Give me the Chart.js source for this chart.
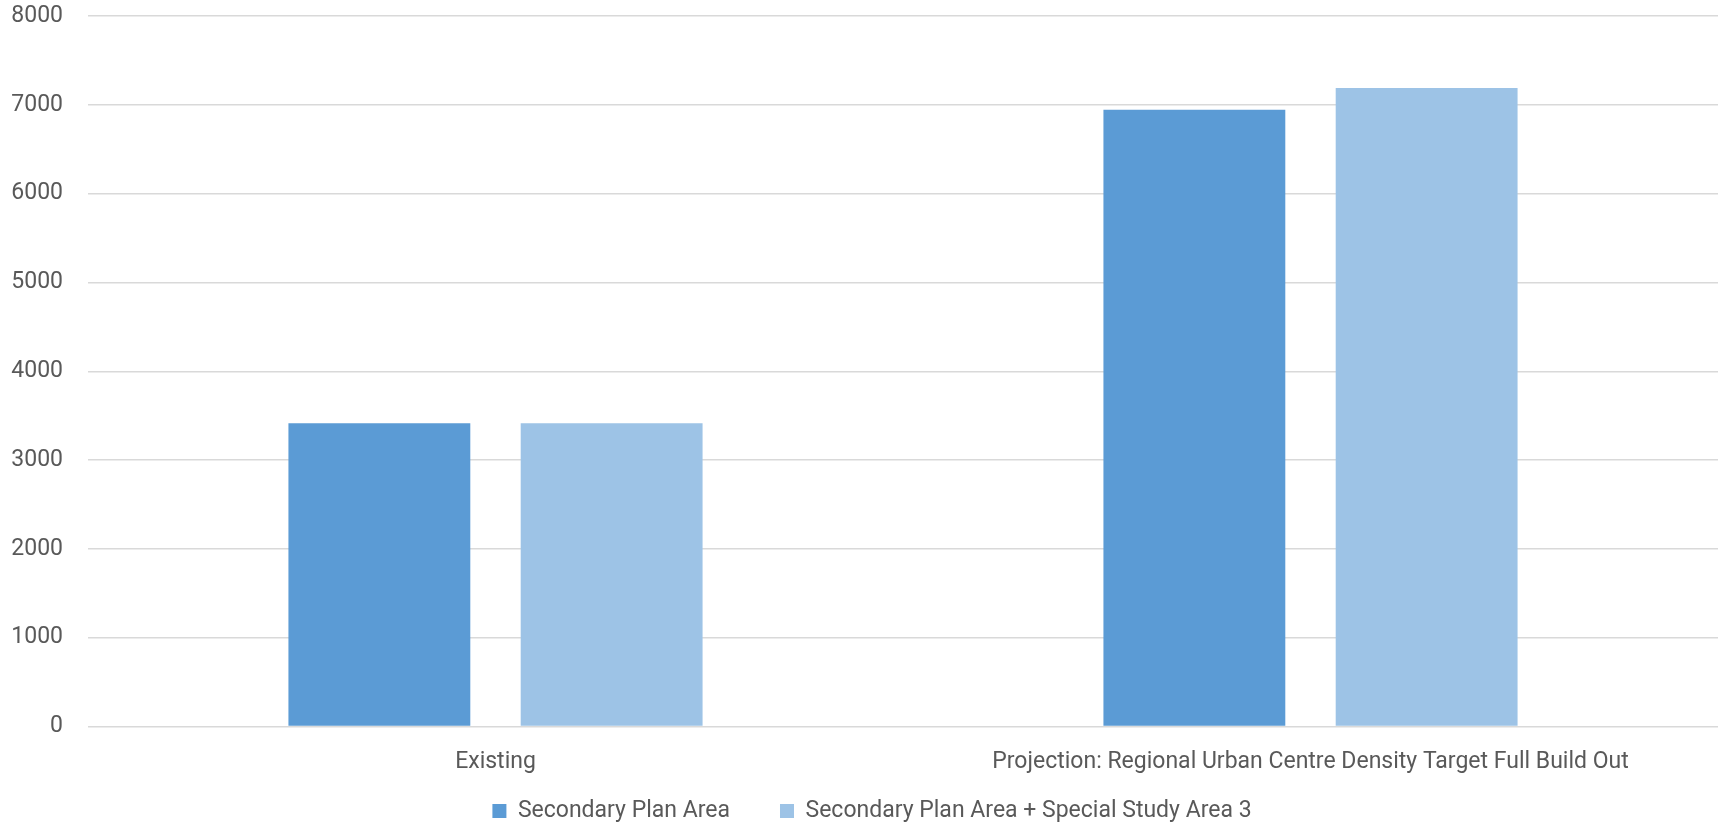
<!DOCTYPE html>
<html>
<head>
<meta charset="utf-8">
<script src="https://cdn.jsdelivr.net/npm/chart.js@4"></script>
<style>
  html, body { margin: 0; padding: 0; background: #fff; }
  #wrap { width: 1721px; height: 823px; }
</style>
</head>
<body>
<div id="wrap"><canvas id="densityChart"></canvas></div>
<script>
// chart data
const categories = ['Existing', 'Projection: Regional Urban Centre Density Target Full Build Out'];
const seriesNames = ['Secondary Plan Area', 'Secondary Plan Area + Special Study Area 3'];
const secondaryPlan = [3415, 6945];
const withStudyArea = [3415, 7190];
const yTicks = [0, 1000, 2000, 3000, 4000, 5000, 6000, 7000, 8000];

const textColor = '#595959';
const gridColor = '#D9D9D9';
const fontFamily = 'Roboto, "Liberation Sans", sans-serif';

const ctx = document.getElementById('densityChart').getContext('2d');
new Chart(ctx, {
	type: 'bar',
	data: {
		labels: categories,
		datasets: [{
			label: seriesNames[0],
			data: secondaryPlan,
			backgroundColor: '#5B9BD5',
			borderWidth: 0
		}, {
			label: seriesNames[1],
			data: withStudyArea,
			backgroundColor: '#9DC3E6',
			borderWidth: 0
		}]
	},
	options: {
		responsive: true,
		maintainAspectRatio: false,
		animation: false,
		datasets: {
			bar: {
				categoryPercentage: 0.57,
				barPercentage: 0.783
			}
		},
		layout: {
			// left padding only nudges the centred legend to the right
			padding: { top: 16, right: 3, bottom: -9.5, left: 26 }
		},
		plugins: {
			legend: {
				position: 'bottom',
				labels: {
					boxWidth: 14,
					boxHeight: 14,
					padding: 50,
					color: textColor,
					font: { family: fontFamily, size: 23 }
				}
			},
			tooltip: { enabled: false }
		},
		scales: {
			x: {
				grid: { display: false },
				border: { display: false },
				ticks: {
					color: textColor,
					// mirrored labels are not clipped to the (squeezed) axis box
					mirror: true,
					padding: -50,
					maxRotation: 0,
					font: { family: fontFamily, size: 23 }
				},
				afterFit: function(scale) {
					scale.height = 23;
				}
			},
			y: {
				min: 0,
				max: 8000,
				afterBuildTicks: function(scale) {
					scale.ticks = yTicks.map(v => ({ value: v }));
				},
				grid: {
					color: gridColor,
					lineWidth: 1.5,
					drawTicks: false
				},
				border: { display: false },
				ticks: {
					color: textColor,
					// mirrored + far aligned: right-aligned labels that can sit left of the axis box
					mirror: true,
					crossAlign: 'far',
					padding: -76.7,
					font: { family: fontFamily, size: 23 },
					callback: function(value) {
						return String(value);
					}
				},
				afterFit: function(scale) {
					scale.width = 62;
				}
			}
		}
	}
});
</script>
</body>
</html>
